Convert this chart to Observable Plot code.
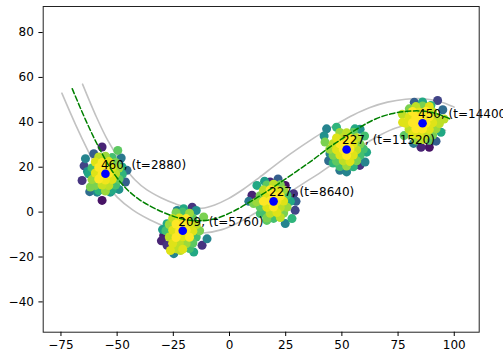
<!DOCTYPE html>
<html>
<head>
<meta charset="utf-8">
<script src="https://cdn.jsdelivr.net/npm/d3@7"></script>
<script src="https://cdn.jsdelivr.net/npm/@observablehq/plot@0.6"></script>
<style>
  html, body { margin: 0; padding: 0; background: #fff; }
  #chart svg { display: block; }
</style>
</head>
<body>
<div id="chart"></div>
<script>
// ---- data ----
const dashX = [-70,-64,-58.5,-52,-46,-40,-33,-26,-19,-12,-5,2,9,16,23,30,37,44,51,58,65,72,79,86,92,98];
const dashY = [55,41,29.5,18,10.5,5.5,1.5,-1.5,-3.5,-3.8,-2.5,0.5,4.5,8.8,13.5,18.3,23.2,28.5,33.3,37.8,41.5,43.8,44.9,45,43.9,41.6];

const upperX = [-65.4,-59.5,-54.1,-47.4,-42,-36.9,-30.5,-24.1,-18.1,-12.4,-6.6,-0.5,6.3,13.1,20.1,27.1,33.9,40.9,48,55.1,62.5,70.3,78.3,86.3,93.4,99.9];
const upperY = [57,43,31.8,21,14.3,10,6.4,3.7,1.9,1.7,3.2,6,10.3,15.3,20.7,25.9,30.6,35.2,39.4,43.3,46.6,49,50.3,50.5,49.3,46.8];

const lowerX = [-74.6,-68.5,-62.9,-56.6,-50,-43.1,-35.5,-27.9,-19.9,-11.6,-3.4,4.5,11.7,18.9,25.9,32.9,40.1,47.1,54,60.9,67.5,73.7,79.7,85.7,90.6,96.1];
const lowerY = [53,39,27.2,15,6.7,1,-3.4,-6.7,-8.9,-9.3,-7.8,-4.4,-0.3,3.8,8.3,12.8,17.4,22.2,26.6,30.8,34.6,37.4,38.8,39.2,38.5,36.4];

// cluster means (blue dots) and their labels
const meanX = [-55.2, -20.8, 19.6, 52.1, 85.9];
const meanY = [17.1, -8.3, 4.8, 27.9, 39.6];
const countN = [460, 209, 227, 227, 450];
const stepT = [2880, 5760, 8640, 11520, 14400];

// particles around each mean: [dx, dy, weight]
const particles1 = [
  [-1.5,11.9,0.1],[5.5,10.4,0.75],[-8.9,6.7,0.45],[-5.2,8.9,0.3],[9.6,1.5,0.35],[8.9,-3.7,0.3],
  [-10.4,-3,0.15],[-6.7,-5.9,0.8],[-3.7,-8.2,0.45],[-1.5,-11.9,0.05],[2.2,-8.2,0.55],[7.4,3,0.6],
  [-8,1,0.5],[7,7,0.4],[-7,-8,0.35],[6,-7,0.5],[-9.5,3.5,0.2],
  [-3,7.5,0.9],[0,7.8,0.85],[3,7.2,0.7],
  [-4.5,5.2,0.95],[-1.5,5,1],[1.5,5.4,0.95],[4.5,5,0.8],
  [-6,2.6,0.7],[-3,2.8,1],[0,2.4,1],[3,2.7,0.95],[6,2.5,0.85],
  [-7.5,0,0.6],[-4.5,0.3,0.95],[-1.5,-0.2,1],[1.5,0.2,1],[4.5,0,0.9],[7.5,-0.3,0.65],
  [-6,-2.6,0.85],[-3,-2.4,1],[0,-2.8,0.98],[3,-2.6,0.95],[6,-2.5,0.75],
  [-4.5,-5.2,0.8],[-1.5,-5,0.92],[1.5,-5.3,0.9],[4.5,-5,0.7],
  [-3,-7.5,0.65],[0,-7.7,0.85],[3,-7.3,0.6]
];
const particles2 = [
  [-8.5,-2.1,0.08],[-7,-6.5,0.15],[-5.5,-8.8,0.95],[-1,-8.8,0.9],[-4,-10.2,0.45],[4.2,10.5,0.15],
  [9.3,6.1,0.8],[10.8,-3.6,0.45],[8.6,-6.5,0.15],[4.9,-9.5,0.6],[-7,3.1,0.6],[-2.5,9,0.45],
  [0.4,9.8,0.6],[6,9,0.5],[-9.5,-4.5,0.1],[-9,0.5,0.55],
  [-3,8,0.8],[0,8.3,0.7],[3,7.8,0.85],
  [-4.5,5.5,0.9],[-1.5,5.7,0.95],[1.5,5.4,1],[4.5,5.6,0.75],
  [-6,2.8,0.85],[-3,3,1],[0,2.7,1],[3,2.9,0.95],[6,2.6,0.9],
  [-7.5,0,0.7],[-4.5,0.2,0.95],[-1.5,-0.3,1],[1.5,0.1,1],[4.5,-0.2,0.95],[7.5,0,0.8],
  [-6,-2.8,0.9],[-3,-3,1],[0,-2.7,0.95],[3,-2.9,1],[6,-2.8,0.7],
  [-4.5,-5.6,0.95],[-1.5,-5.5,0.9],[1.5,-5.8,0.85],[4.5,-5.5,0.75],
  [-3,-8,0.9],[0,-8.2,0.95],[3,-7.9,0.7]
];
const particles3 = [
  [-9.6,2.7,0.1],[-7.4,7.1,0.6],[-1.5,8.6,0.12],[5.2,7.1,0.05],[8.9,3.4,0.15],[9.6,-4,0.2],
  [5.2,-9.9,0.45],[8.2,-7.7,0.65],[-5.9,-5.5,0.7],[-8.9,-1,0.8],[-3,-8.5,0.75],[-11,0,0.4],
  [2,10,0.3],[10,0,0.3],[-4,9,0.55],
  [-3,7.3,0.75],[0,7.6,0.9],[3,7.4,0.8],
  [-4.5,5,0.9],[-1.5,5.2,1],[1.5,4.9,0.95],[4.5,5.1,0.85],
  [-6,2.5,0.8],[-3,2.7,0.95],[0,2.5,1],[3,2.4,1],[6,2.7,0.7],
  [-7.5,-0.2,0.85],[-4.5,0,1],[-1.5,0.2,1],[1.5,-0.1,0.98],[4.5,0.1,0.95],[7.5,0,0.6],
  [-6,-2.5,0.75],[-3,-2.7,0.95],[0,-2.5,1],[3,-2.8,0.9],[6,-2.6,0.85],
  [-4.5,-5.1,0.7],[-1.5,-5.3,0.9],[1.5,-5,0.95],[4.5,-5.2,0.8],
  [-3,-7.4,0.8],[0,-7.6,0.7],[3,-7.2,0.9]
];
const particles4 = [
  [-8.9,9.2,0.45],[-4.5,9.9,0.65],[3.7,9.2,0.6],[-9.6,3.3,0.8],[-7.4,-1.9,0.45],[8.9,-1.2,0.6],
  [8.2,-5.6,0.45],[5.9,-7.1,0.15],[0,-10,0.45],[-3,-9.3,0.4],[-6,-6,0.65],[8,6,0.7],[-10,6,0.5],
  [6,9,0.5],[-8,-5,0.35],
  [-3,7.6,0.85],[0,7.4,0.9],[3,7.7,0.75],
  [-4.5,5.1,0.95],[-1.5,5.3,0.9],[1.5,5,1],[4.5,5.2,0.9],
  [-6,2.6,0.9],[-3,2.5,1],[0,2.8,1],[3,2.6,0.95],[6,2.4,0.8],
  [-7.5,0.1,0.85],[-4.5,-0.1,0.95],[-1.5,0,1],[1.5,0.3,1],[4.5,-0.2,0.9],[7.5,0.2,0.7],
  [-6,-2.6,0.8],[-3,-2.5,0.95],[0,-2.7,1],[3,-2.5,0.95],[6,-2.7,0.7],
  [-4.5,-5.2,0.75],[-1.5,-5.1,0.9],[1.5,-5.4,0.95],[4.5,-5,0.8],
  [-3,-7.6,0.7],[0,-7.4,0.85],[3,-7.7,0.65]
];
const particles5 = [
  [-3.7,9.3,0.3],[6.7,10.1,0.2],[-8.9,0.4,0.95],[-8.2,-5.5,0.75],[-0.7,-10.7,0.1],[3,-10.7,0.05],
  [8.2,-4,0.6],[9.6,1.9,0.9],[-5.9,6.4,0.8],[3.7,7.9,0.65],[9,6,0.35],[-4,-9,0.4],[6,-8,0.3],
  [0,9.5,0.6],[-9,4,0.9],
  [-3,7.4,0.9],[0,7.7,0.8],[3,7.5,0.95],
  [-4.5,5.2,1],[-1.5,5,0.95],[1.5,5.3,1],[4.5,5,0.9],
  [-6,2.7,0.95],[-3,2.5,1],[0,2.6,1],[3,2.8,1],[6,2.4,0.9],
  [-7.5,0,0.95],[-4.5,0.2,1],[-1.5,-0.1,1],[1.5,0,1],[4.5,0.2,0.95],[7.5,-0.1,0.9],
  [-6,-2.7,0.9],[-3,-2.5,1],[0,-2.6,1],[3,-2.8,0.95],[6,-2.5,0.85],
  [-4.5,-5,0.95],[-1.5,-5.3,0.95],[1.5,-5.1,0.9],[4.5,-5.3,0.8],
  [-3,-7.5,0.85],[0,-7.3,0.9],[3,-7.6,0.75]
];

// ---- build tables ----
const dashed = dashX.map((x, i) => ({x, y: dashY[i]}));
const upper = upperX.map((x, i) => ({x, y: upperY[i]}));
const lower = lowerX.map((x, i) => ({x, y: lowerY[i]}));
const means = meanX.map((x, i) => ({x, y: meanY[i], label: `${countN[i]}, (t=${stepT[i]})`}));
const particleSets = [particles1, particles2, particles3, particles4, particles5];
const particles = particleSets.flatMap((set, k) =>
  set.map(([dx, dy, w]) => ({x: meanX[k] + dx, y: meanY[k] + dy, w}))
).sort((a, b) => a.w - b.w);

const chart = Plot.plot({
  width: 503,
  height: 352,
  marginLeft: 42.7,
  marginRight: 24.3,
  marginTop: 6,
  marginBottom: 20.3,
  style: {fontFamily: "DejaVu Sans", fontSize: "12px", color: "#000", background: "#fff"},
  x: {domain: [-82.9, 111.1]},
  y: {domain: [-53.5, 91.6]},
  color: {type: "linear", scheme: "viridis", domain: [0, 1]},
  marks: [
    Plot.line(upper, {x: "x", y: "y", stroke: "#c2c2c2", strokeWidth: 1.6, curve: "catmull-rom"}),
    Plot.line(lower, {x: "x", y: "y", stroke: "#c2c2c2", strokeWidth: 1.6, curve: "catmull-rom"}),
    Plot.dot(particles, {x: "x", y: "y", fill: "w", r: 4.5, stroke: null}),
    Plot.line(dashed, {x: "x", y: "y", stroke: "green", strokeWidth: 1.5, strokeDasharray: "5.5,2.5", curve: "catmull-rom"}),
    Plot.dot(means, {x: "x", y: "y", fill: "blue", r: 4.3}),
    Plot.text(means, {x: "x", y: "y", text: "label", textAnchor: "start", lineAnchor: "middle", dx: -4.5, dy: -9, fontSize: 12, fill: "#000"}),
    Plot.frame({stroke: "#222", strokeWidth: 1}),
    Plot.axisX({ticks: [-75, -50, -25, 0, 25, 50, 75, 100], tickSize: 4.3, tickPadding: 4, label: null, fontSize: 12}),
    Plot.axisY({ticks: [-40, -20, 0, 20, 40, 60, 80], tickSize: 4.3, tickPadding: 5, label: null, fontSize: 12})
  ]
});
document.getElementById("chart").appendChild(chart);
</script>
</body>
</html>
